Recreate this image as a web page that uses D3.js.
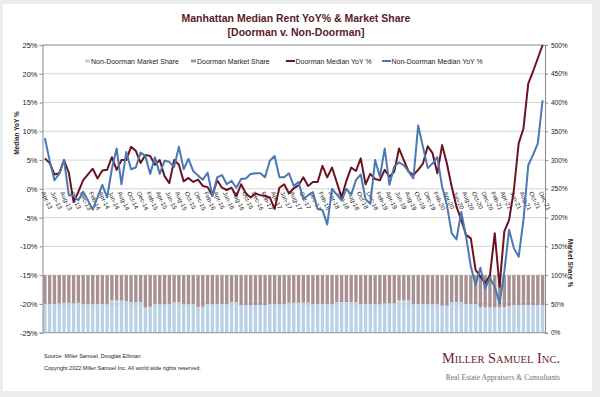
<!DOCTYPE html>
<html><head><meta charset="utf-8">
<script src="https://cdn.jsdelivr.net/npm/d3@7"></script>
<style>
html,body{margin:0;padding:0;background:#ececec;}
svg{display:block;font-family:"Liberation Sans",Arial,sans-serif;}
</style></head>
<body><svg id="c" width="600" height="397"></svg>
<script>
const months = ["Apr-13","May-13","Jun-13","Jul-13","Aug-13","Sep-13","Oct-13","Nov-13","Dec-13",
"Jan-14","Feb-14","Mar-14","Apr-14","May-14","Jun-14","Jul-14","Aug-14","Sep-14","Oct-14","Nov-14","Dec-14",
"Jan-15","Feb-15","Mar-15","Apr-15","May-15","Jun-15","Jul-15","Aug-15","Sep-15","Oct-15","Nov-15","Dec-15",
"Jan-16","Feb-16","Mar-16","Apr-16","May-16","Jun-16","Jul-16","Aug-16","Sep-16","Oct-16","Nov-16","Dec-16",
"Jan-17","Feb-17","Mar-17","Apr-17","May-17","Jun-17","Jul-17","Aug-17","Sep-17","Oct-17","Nov-17","Dec-17",
"Jan-18","Feb-18","Mar-18","Apr-18","May-18","Jun-18","Jul-18","Aug-18","Sep-18","Oct-18","Nov-18","Dec-18",
"Jan-19","Feb-19","Mar-19","Apr-19","May-19","Jun-19","Jul-19","Aug-19","Sep-19","Oct-19","Nov-19","Dec-19",
"Jan-20","Feb-20","Mar-20","Apr-20","May-20","Jun-20","Jul-20","Aug-20","Sep-20","Oct-20","Nov-20","Dec-20",
"Jan-21","Feb-21","Mar-21","Apr-21","May-21","Jun-21","Jul-21","Aug-21","Sep-21","Oct-21","Nov-21","Dec-21"];

const doormanYoY = [5.3,4.5,2.5,2.7,5.0,2.8,-2.3,-0.5,1.5,
2.5,3.5,1.8,3.2,3.3,5.5,3.3,5.0,5.0,7.3,6.6,4.5,
5.9,5.7,4.2,5.0,2.2,1.0,5.0,4.2,1.3,1.9,1.2,1.6,
0.5,0.3,-1.2,1.5,0.2,-0.2,0.2,-1.3,0.8,-0.8,-1.5,-0.8,
-1.1,-1.2,-1.5,-3.5,0.2,0.8,-0.8,0.1,0.6,2.0,0.5,1.2,
1.2,4.0,2.0,3.7,1.1,-1.5,1.4,3.7,3.1,5.3,0.8,2.6,
1.7,1.5,3.3,2.1,3.0,7.0,5.0,3.0,2.4,3.3,4.4,7.4,
6.2,2.7,7.6,4.4,0.4,-3.1,-5.4,-8.0,-8.6,-14.1,-15.2,-16.4,
-15.0,-7.7,-17.0,-7.4,-5.4,-0.2,7.9,10.5,18.3,20.4,22.7,25.0];

const nonDoormanYoY = [8.8,4.9,1.5,2.6,5.0,-1.1,-1.2,-2.0,-0.5,
-2.0,-3.6,-1.5,0.7,-1.5,3.5,7.0,0.8,6.4,3.4,3.7,6.3,
5.7,2.6,5.5,2.6,4.9,4.7,3.8,7.3,3.4,5.2,3.1,2.3,
1.6,2.8,-1.2,2.0,2.4,0.8,1.4,0.2,1.7,1.8,2.6,2.7,
2.7,2.0,4.9,5.7,2.0,2.0,2.7,0.5,1.2,-1.8,-1.1,-0.6,
-3.5,-3.7,-6.2,0.0,-1.0,-2.0,0.0,-1.0,1.5,2.5,-1.8,-2.6,
5.0,2.1,7.0,0.7,3.9,4.6,4.1,3.0,1.8,11.0,7.3,3.6,
4.4,5.5,0.4,-2.8,-7.7,-8.8,-4.0,-8.3,-13.5,-16.7,-13.7,-17.3,
-15.5,-17.0,-19.9,-14.4,-7.1,-10.3,-11.8,-5.4,4.1,5.9,7.9,15.4];

const nonDoormanShare = [50,50,50,51,52,52,51,52,50,
50,50,50,50,50,56,56,56,55,53,53,53,
44,45,50,50,50,50,53,53,50,50,50,45,
45,50,50,50,50,50,53,53,48,48,48,48,
48,48,50,50,50,50,52,52,52,52,52,50,
50,50,50,50,53,53,53,53,53,50,50,50,
50,50,51,51,51,56,56,56,50,50,50,50,
50,50,47,47,53,53,53,50,50,50,44,44,
44,44,44,44,46,48,48,48,48,48,48,48];
const doormanShare = nonDoormanShare.map(v => 100 - v);

const leftTicks = [-25,-20,-15,-10,-5,0,5,10,15,20,25];
const rightTicks = [0,50,100,150,200,250,300,350,400,450,500];

const C = {bg:"#ececec", title:"#5b1a29", dm:"#6b1322", nd:"#4a78b2", ndBar:"#b9d1e5", dmBar:"#a88f91", grid:"#c9c9c9", axis:"#8a8a8a", text:"#222"};

const svg = d3.select("#c");
svg.append("rect").attr("x",0).attr("y",0).attr("width",600).attr("height",397).attr("fill",C.bg);
svg.append("rect").attr("x",3).attr("y",4).attr("width",589).attr("height",387).attr("fill","#fff");

const L=42.5, R=545, T=45, B=332.7;
const x = d3.scaleBand().domain(months).range([L,R]).paddingInner(0.3).paddingOuter(0.15);
const xc = d => x(d) + x.bandwidth()/2;
const y = d3.scaleLinear().domain([-25,25]).range([B,T]);
const y2 = d3.scaleLinear().domain([0,500]).range([B,T]);

// gridlines
svg.append("g").selectAll("line").data(leftTicks).join("line")
  .attr("x1",L).attr("x2",R).attr("y1",d=>y(d)).attr("y2",d=>y(d))
  .attr("stroke",C.grid).attr("stroke-width",0.8);

// bars
const bars = svg.append("g");
bars.selectAll("rect.nd").data(months).join("rect").attr("class","nd")
  .attr("x",d=>x(d)).attr("width",x.bandwidth())
  .attr("y",(d,i)=>y2(nonDoormanShare[i])).attr("height",(d,i)=>y2(0)-y2(nonDoormanShare[i]))
  .attr("fill",C.ndBar);
bars.selectAll("rect.dm").data(months).join("rect").attr("class","dm")
  .attr("x",d=>x(d)).attr("width",x.bandwidth())
  .attr("y",(d,i)=>y2(nonDoormanShare[i]+doormanShare[i])).attr("height",(d,i)=>y2(nonDoormanShare[i])-y2(nonDoormanShare[i]+doormanShare[i]))
  .attr("fill",C.dmBar);

// axes
const yAxis = d3.axisLeft(y).tickValues(leftTicks).tickSize(3).tickFormat(d=>d+"%");
const ga = svg.append("g").attr("transform",`translate(${L},0)`).call(yAxis);
ga.select(".domain").attr("stroke",C.axis);
ga.selectAll(".tick line").attr("stroke",C.axis);
ga.selectAll("text").attr("font-size",7.5).attr("fill",C.text).attr("x",-5).attr("font-family","Liberation Sans, Arial, sans-serif");

const y2Axis = d3.axisRight(y2).tickValues(rightTicks).tickSize(3).tickFormat(d=>d+"%");
const gb = svg.append("g").attr("transform",`translate(${R},0)`).call(y2Axis);
gb.select(".domain").attr("stroke",C.axis);
gb.selectAll(".tick line").attr("stroke",C.axis);
gb.selectAll("text").attr("font-size",6.5).attr("fill",C.text).attr("x",6).attr("font-family","Liberation Sans, Arial, sans-serif");

svg.append("line").attr("x1",L).attr("x2",R).attr("y1",T).attr("y2",T).attr("stroke",C.axis).attr("stroke-width",0.8);
svg.append("line").attr("x1",L).attr("x2",R).attr("y1",B).attr("y2",B).attr("stroke",C.axis).attr("stroke-width",0.8);

// x labels (every other month)
svg.append("g").selectAll("text").data(months.filter((d,i)=>i%2===0)).join("text")
  .attr("transform",d=>`translate(${xc(d)-2},${y(0)+3}) rotate(65)`)
  .attr("font-size",6.2).attr("fill",C.text).attr("dy","0.35em").text(d=>d);

// lines
svg.append("clipPath").attr("id","pc").append("rect").attr("x",L).attr("y",T-1).attr("width",R-L).attr("height",B-T+1);
const line = d3.line().x((d,i)=>xc(months[i])).y(d=>y(d));
const lg = svg.append("g").attr("clip-path","url(#pc)");
lg.append("path").datum(doormanYoY).attr("d",line).attr("fill","none").attr("stroke",C.dm).attr("stroke-width",2).attr("stroke-linejoin","round");
lg.append("path").datum(nonDoormanYoY).attr("d",line).attr("fill","none").attr("stroke",C.nd).attr("stroke-width",2).attr("stroke-linejoin","round");

// axis titles
svg.append("text").attr("transform","translate(19,133) rotate(-90)").attr("text-anchor","middle")
  .attr("font-size",6.5).attr("font-weight","bold").attr("fill",C.text).text("Median YoY %");
svg.append("text").attr("transform","translate(568,263) rotate(90)").attr("text-anchor","middle")
  .attr("font-size",6.5).attr("font-weight","bold").attr("fill",C.text).text("Market Share %");

// title
svg.append("text").attr("x",296).attr("y",22).attr("text-anchor","middle").attr("font-size",10.5).attr("font-weight","bold").attr("fill",C.title).text("Manhattan Median Rent YoY% & Market Share");
svg.append("text").attr("x",296).attr("y",36).attr("text-anchor","middle").attr("font-size",10.5).attr("font-weight","bold").attr("fill",C.title).text("[Doorman v. Non-Doorman]");

// legend
const legend = [
  {name:"Non-Doorman Market Share", color:C.ndBar, type:"bar", x:85},
  {name:"Doorman Market Share", color:C.dmBar, type:"bar", x:191},
  {name:"Doorman Median YoY %", color:C.dm, type:"line", x:286},
  {name:"Non-Doorman Median YoY %", color:C.nd, type:"line", x:382}
];
const lgG = svg.append("g");
legend.forEach(d=>{
  if(d.type==="bar"){
    lgG.append("rect").attr("x",d.x).attr("y",59.5).attr("width",5).attr("height",3).attr("fill",d.color);
  } else {
    lgG.append("line").attr("x1",d.x).attr("x2",d.x+9).attr("y1",61).attr("y2",61).attr("stroke",d.color).attr("stroke-width",2);
  }
  lgG.append("text").attr("x",d.x+(d.type==="bar"?6:9.5)).attr("y",63.5).attr("font-size",7).attr("fill",C.text).text(d.name);
});

// footer
svg.append("text").attr("x",44).attr("y",358).attr("font-size",5.5).attr("fill",C.text).text("Source: Miller Samuel, Douglas Elliman");
svg.append("text").attr("x",44).attr("y",370).attr("font-size",5.5).attr("fill",C.text).text("Copyright 2022 Miller Samuel Inc.  All world wide rights reserved.");
svg.append("text").attr("x",442).attr("y",363).attr("font-family","Liberation Serif, Times New Roman, serif")
  .attr("font-size",15).attr("font-variant","small-caps").attr("fill","#6d1c2b")
  .attr("textLength",118).attr("lengthAdjust","spacingAndGlyphs").text("Miller Samuel Inc.");
svg.append("text").attr("x",560).attr("y",380).attr("text-anchor","end").attr("font-family","Liberation Serif, Times New Roman, serif")
  .attr("font-size",7.6).attr("fill","#707070").text("Real Estate Appraisers & Consultants");
</script></body></html>
